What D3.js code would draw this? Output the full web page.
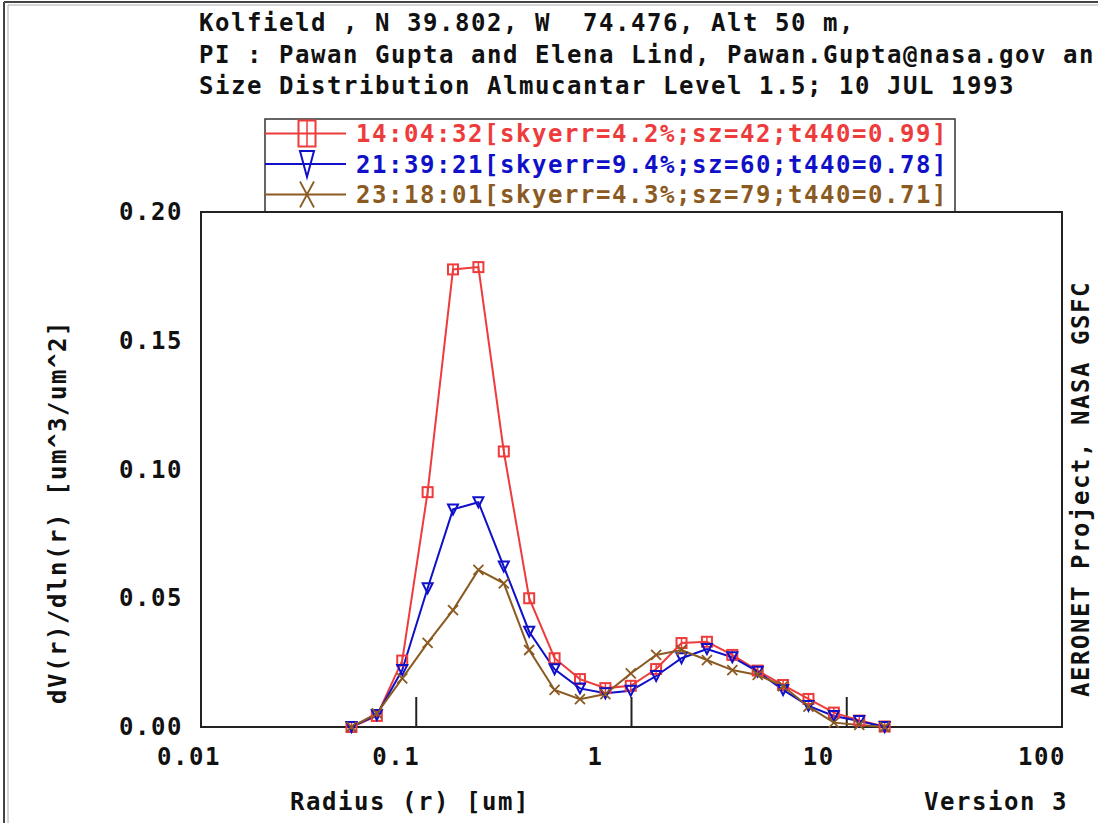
<!DOCTYPE html>
<html>
<head>
<meta charset="utf-8">
<script src="https://cdn.jsdelivr.net/npm/d3@7"></script>
<style>
  html, body { margin: 0; padding: 0; background: #fff; }
  svg text { font-family: "DejaVu Sans Mono", "Liberation Mono", monospace; font-weight: bold; font-size: 24px; letter-spacing: 1.55px; white-space: pre; }
</style>
</head>
<body>
<svg id="chart" width="1098" height="823"></svg>
<script>
// ---------- data ----------
const titleLines = [
  "Kolfield , N 39.802, W  74.476, Alt 50 m,",
  "PI : Pawan Gupta and Elena Lind, Pawan.Gupta@nasa.gov an",
  "Size Distribution Almucantar Level 1.5; 10 JUL 1993"
];
const radius = [0.05, 0.065604, 0.086077, 0.112939, 0.148184, 0.194429, 0.255105, 0.334716,
  0.439173, 0.576227, 0.756052, 0.991996, 1.301571, 1.707757, 2.240702, 2.939966,
  3.857452, 5.06126, 6.640745, 8.713145, 11.432287, 15.0];
const seriesNames = [
  "14:04:32[skyerr=4.2%;sz=42;t440=0.99]",
  "21:39:21[skyerr=9.4%;sz=60;t440=0.78]",
  "23:18:01[skyerr=4.3%;sz=79;t440=0.71]"
];
const valuesRed = [0.0000, 0.0043, 0.0258, 0.0912, 0.1777, 0.1786, 0.1070, 0.0500, 0.0267, 0.0186, 0.0151,
  0.0160, 0.0225, 0.0326, 0.0331, 0.0280, 0.0219, 0.0163, 0.0109, 0.0056, 0.0025, 0.0002];
const valuesBlue = [0.0000, 0.0047, 0.0221, 0.0539, 0.0845, 0.0873, 0.0623, 0.0370, 0.0224, 0.0150, 0.0131,
  0.0141, 0.0198, 0.0267, 0.0303, 0.0271, 0.0215, 0.0144, 0.0082, 0.0043, 0.0023, 0.0000];
const valuesBrown = [0.0000, 0.0053, 0.0189, 0.0327, 0.0454, 0.0610, 0.0558, 0.0299, 0.0144, 0.0108, 0.0128,
  0.0208, 0.0280, 0.0299, 0.0260, 0.0221, 0.0202, 0.0159, 0.0079, 0.0017, 0.0008, 0.0000];
const xTicks = [0.01, 0.1, 1, 10, 100];
const xTickLabels = ["0.01", "0.1", "1", "10", "100"];
const yTicks = [0.00, 0.05, 0.10, 0.15, 0.20];
const yTickLabels = ["0.00", "0.05", "0.10", "0.15", "0.20"];
const xTitle = "Radius (r) [um]";
const yTitle = "dV(r)/dln(r) [um^3/um^2]";
const rightTitle = "AERONET Project, NASA GSFC";
const versionText = "Version 3";

// ---------- layout ----------
const colors = ["#ee3b3b", "#1010c8", "#8b5a22"];
const markers = ["square", "tri", "x"];
const series = [valuesRed, valuesBlue, valuesBrown];
const frame = { left: 201, right: 1062, top: 212, bottom: 727 };

const svg = d3.select("#chart");
const x = d3.scaleLog().domain([0.01, 100]).range([frame.left, frame.right]);
const y = d3.scaleLinear().domain([0, 0.2]).range([frame.bottom, frame.top]);

// outer page border
svg.append("line").attr("x1", 4).attr("x2", 4).attr("y1", 2).attr("y2", 823)
  .attr("stroke", "#444").attr("stroke-width", 2);
svg.append("line").attr("x1", 8).attr("x2", 8).attr("y1", 5).attr("y2", 823)
  .attr("stroke", "#aaa").attr("stroke-width", 1);
svg.append("line").attr("x1", 4).attr("x2", 1098).attr("y1", 2).attr("y2", 2)
  .attr("stroke", "#444").attr("stroke-width", 2);
svg.append("line").attr("x1", 8).attr("x2", 1098).attr("y1", 5).attr("y2", 5)
  .attr("stroke", "#aaa").attr("stroke-width", 1);

// titles
svg.selectAll("text.title").data(titleLines).join("text")
  .attr("class", "title")
  .attr("xml:space", "preserve")
  .attr("x", 199).attr("y", (d, i) => 31 + i * 31.5)
  .attr("fill", "#111").text(d => d);

// legend box
const legTop = 119, legLeft = 265, legRight = 955, rowH = 30.5, rowY0 = 133.5;
svg.append("rect").attr("x", legLeft).attr("y", legTop)
  .attr("width", legRight - legLeft).attr("height", frame.top - legTop)
  .attr("fill", "#fff").attr("stroke", "#333").attr("stroke-width", 1.5);

function drawMarker(g, type, color, w, h) {
  if (type === "square") {
    g.append("rect").attr("x", -w / 2).attr("y", -h / 2).attr("width", w).attr("height", h)
      .attr("fill", "none").attr("stroke", color).attr("stroke-width", 2);
    g.append("line").attr("x1", 0).attr("x2", 0).attr("y1", -h / 2).attr("y2", h / 2)
      .attr("stroke", color).attr("stroke-width", 1.5);
  } else if (type === "tri") {
    g.append("path").attr("d", `M${-w / 2},${-h / 2}L${w / 2},${-h / 2}L0,${h / 2}Z`)
      .attr("fill", "none").attr("stroke", color).attr("stroke-width", 2);
  } else {
    g.append("path").attr("d", `M${-w / 2},${-h / 2}L${w / 2},${h / 2}M${w / 2},${-h / 2}L${-w / 2},${h / 2}`)
      .attr("fill", "none").attr("stroke", color).attr("stroke-width", 1.8);
  }
}

seriesNames.forEach((name, i) => {
  const ry = rowY0 + i * rowH;
  svg.append("line").attr("x1", legLeft).attr("x2", 346).attr("y1", ry).attr("y2", ry)
    .attr("stroke", colors[i]).attr("stroke-width", 2);
  const g = svg.append("g").attr("transform", `translate(307,${ry})`);
  drawMarker(g, markers[i], colors[i], markers[i] === "square" ? 17 : 14, 26);
  svg.append("text").attr("x", 356).attr("y", ry + 8.5).attr("fill", colors[i]).text(name);
});

// plot frame
svg.append("rect").attr("x", frame.left).attr("y", frame.top)
  .attr("width", frame.right - frame.left).attr("height", frame.bottom - frame.top)
  .attr("fill", "#fff").attr("stroke", "#222").attr("stroke-width", 2);

// x ticks (inside, from bottom) at interior decades
svg.selectAll("line.xtick").data(xTicks.slice(1, -1)).join("line")
  .attr("class", "xtick")
  .attr("x1", d => x(d)).attr("x2", d => x(d))
  .attr("y1", frame.bottom).attr("y2", frame.bottom - 30)
  .attr("stroke", "#222").attr("stroke-width", 2);

// x tick labels (left-aligned a fixed distance before each decade)
svg.selectAll("text.xlab").data(xTicks).join("text")
  .attr("class", "xlab")
  .attr("x", d => x(d) - 44).attr("y", 765)
  .attr("text-anchor", "start").attr("fill", "#111")
  .text((d, i) => xTickLabels[i]);

// y tick labels
svg.selectAll("text.ylab").data(yTicks).join("text")
  .attr("class", "ylab")
  .attr("x", 183).attr("y", d => y(d) + 8)
  .attr("text-anchor", "end").attr("fill", "#111")
  .text((d, i) => yTickLabels[i]);

// axis titles
svg.append("text").attr("x", 410).attr("y", 810).attr("text-anchor", "middle")
  .attr("fill", "#111").text(xTitle);
svg.append("text").attr("x", 1068).attr("y", 810).attr("text-anchor", "end")
  .attr("fill", "#111").text(versionText);
svg.append("text").attr("transform", "translate(66,512) rotate(-90)")
  .attr("text-anchor", "middle").attr("fill", "#111").text(yTitle);
svg.append("text").attr("transform", "translate(1089,489) rotate(-90)")
  .attr("text-anchor", "middle").attr("fill", "#111").text(rightTitle);

// series lines and markers
const line = d3.line().x((d, i) => x(radius[i])).y(d => y(d));
series.forEach((vals, s) => {
  svg.append("path").datum(vals).attr("d", line)
    .attr("fill", "none").attr("stroke", colors[s]).attr("stroke-width", 2);
});
series.forEach((vals, s) => {
  vals.forEach((v, i) => {
    const g = svg.append("g").attr("transform", `translate(${x(radius[i])},${y(v)})`);
    drawMarker(g, markers[s], colors[s], 10, 10);
  });
});
</script>
</body>
</html>
